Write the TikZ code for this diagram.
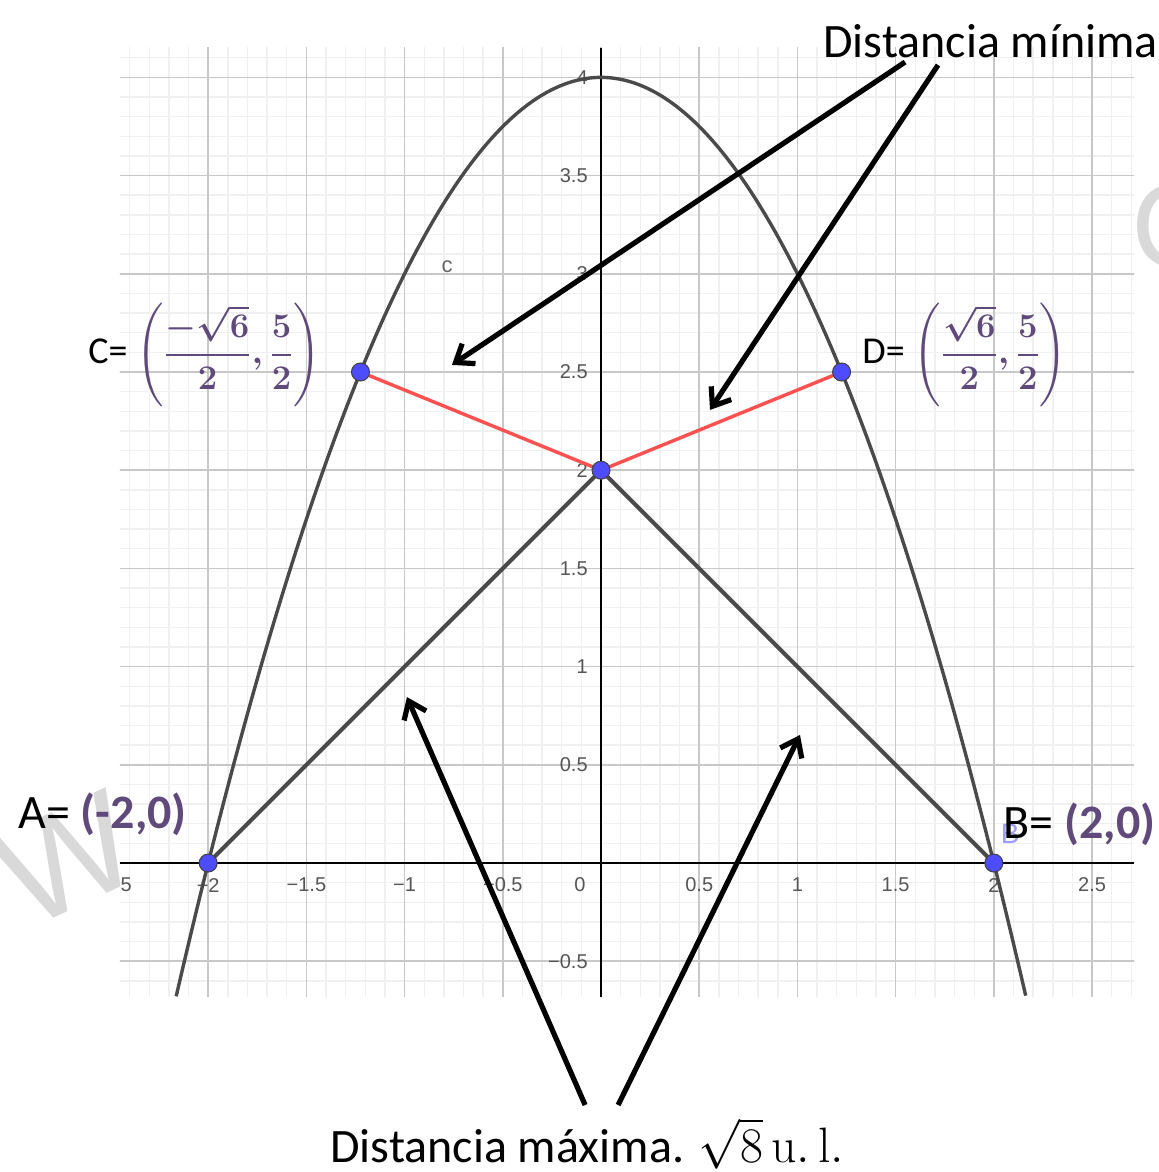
\documentclass[tikz,border=0pt]{standalone}
\usepackage{amsmath}
\usepackage[no-math]{fontspec}
\setmainfont{Carlito}
\newfontfamily\tickfont{Liberation Sans}
\usetikzlibrary{arrows.meta}
\definecolor{purp}{RGB}{96,74,123}
\definecolor{curvegray}{RGB}{74,74,74}
\definecolor{ptblue}{RGB}{77,77,255}
\definecolor{redseg}{RGB}{255,80,80}
\definecolor{minorgrid}{RGB}{240,240,240}
\definecolor{majorgrid}{RGB}{200,200,200}
\definecolor{ticklab}{RGB}{85,85,85}
\definecolor{wmgray}{RGB}{217,217,217}
\begin{document}
\begin{tikzpicture}[x=98.2pt,y=98.2pt,
  tick/.style={font=\tickfont\fontsize{10}{11}\selectfont, text=ticklab, inner sep=0pt},
  ptdot/.style={circle, fill=ptblue, draw=black!75, line width=0.5pt, minimum size=9pt, inner sep=0pt},
  callout/.style={line width=2.6pt, -{Straight Barb[length=8pt,width=12pt]}},
  big/.style={font=\fontsize{24}{28}\selectfont, inner sep=0pt},
  ptlabel/.style={font=\fontsize{19}{22}\selectfont, inner sep=0pt},
]
\useasboundingbox (-3.060,-1.573) rectangle (2.836,4.394);
% watermark fragments
\node[text=wmgray, font=\tickfont\fontsize{70}{70}\selectfont, rotate=25] (wm1) at (-2.72,0.02) {W};
\node[text=wmgray, font=\tickfont\fontsize{60}{60}\selectfont] (wm2) at (2.92,3.24) {C};
% graph background and grid
\fill[white] (-2.45,-0.682) rectangle (2.714,4.15);
\begin{scope}
  \clip (-2.45,-0.682) rectangle (2.714,4.15);
  \draw[minorgrid, line width=0.7pt, step=0.1] (-2.5,-0.7) grid (2.8,4.2);
  \draw[majorgrid, line width=0.8pt, step=0.5] (-2.5,-0.7) grid (2.8,4.2);
  \node[tick] (xm25) at (-2.49,-0.112) {−2.5};
\end{scope}
\coordinate (xl) at (-2.45,0); \coordinate (xr) at (2.714,0);
\coordinate (yb) at (0,-0.682); \coordinate (yt) at (0,4.15);
\draw[black, line width=0.9pt] (xl) -- (xr);
\draw[black, line width=0.9pt] (yb) -- (yt);
% x tick labels
\foreach \v/\t/\n in {-2/{−2}/a,-1.5/{−1.5}/b,-1/{−1}/c,-0.5/{−0.5}/d,0.5/{0.5}/e,1/{1}/f,1.5/{1.5}/g,2/{2}/h,2.5/{2.5}/i}
  \node[tick] (xt\n) at (\v,-0.112) {\t};
\node[tick] (xt0) at (-0.107,-0.112) {0};
% y tick labels
\foreach \v/\t/\n in {4/{4}/a,3.5/{3.5}/b,3/{3}/c,2.5/{2.5}/d,2/{2}/e,1.5/{1.5}/f,1/{1}/g,0.5/{0.5}/h,-0.5/{−0.5}/i}
  \node[tick, anchor=east] (yt\n) at (-0.066,\v) {\t};
% curve
\draw[curvegray, line width=1.7pt, domain=-2.163:2.163, samples=120, smooth] plot (\x,{4-\x*\x});
\node[tick, text=black!60, font=\tickfont\fontsize{11}{11}\selectfont] (clab) at (-0.784,3.035) {c};
% points
\coordinate (A) at (-2,0);
\coordinate (B) at (2,0);
\coordinate (E) at (0,2);
\coordinate (C) at (-1.2247,2.5);
\coordinate (D) at (1.2247,2.5);
\draw[curvegray, line width=2pt] (A) -- (E) -- (B);
\draw[redseg, line width=1.7pt] (C) -- (E) -- (D);
\node[text=ptblue!55, font=\tickfont\fontsize{14}{14}\selectfont, inner sep=0pt] (Bblue) at (2.083,0.150) {B};
\foreach \p in {A,B,C,D,E} \node[ptdot] (dot\p) at (\p) {};
% point labels
\node[big, anchor=base west] (Alab) at (-2.968,0.178) {A= \textcolor{purp}{\textbf{(-2,0)}}};
\node[big, anchor=base west] (Blab) at (2.047,0.127) {B= \textcolor{purp}{\textbf{(2,0)}}};
\node[ptlabel, anchor=west] (Clab) at (-2.612,2.587) {C= \textcolor{purp}{\boldmath$\displaystyle\left(\frac{-\sqrt{6}}{2},\frac{5}{2}\right)$}};
\node[ptlabel, anchor=west] (Dlab) at (1.329,2.587) {D= \textcolor{purp}{\boldmath$\displaystyle\left(\frac{\sqrt{6}}{2},\frac{5}{2}\right)$}};
% annotations
\node[big, anchor=base west] (dmin) at (1.130,4.099) {Distancia mínima};
\node[big, anchor=base west] (dmax) at (-1.380,-1.527) {Distancia máxima. $\sqrt{8}\,\mathrm{u.\,l.}$};
\coordinate (s1) at (1.548,4.078); \coordinate (t1) at (-0.759,2.536);
\coordinate (s2) at (1.716,4.063); \coordinate (t2) at (0.555,2.307);
\coordinate (s3) at (-0.081,-1.232); \coordinate (t3) at (-0.988,0.845);
\coordinate (s4) at (0.087,-1.232); \coordinate (t4) at (1.013,0.652);
\draw[callout] (s1) -- (t1);
\draw[callout] (s2) -- (t2);
\draw[callout] (s3) -- (t3);
\draw[callout] (s4) -- (t4);
\end{tikzpicture}
\end{document}
